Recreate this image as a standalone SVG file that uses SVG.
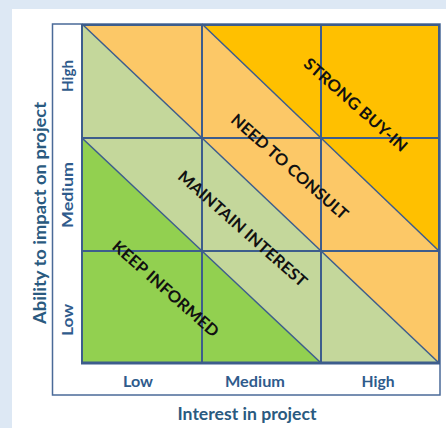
<svg xmlns="http://www.w3.org/2000/svg" width="446" height="428" viewBox="0 0 446 428">
<style>
.lbl{font-family:Lato,"Open Sans","Liberation Sans",sans-serif;font-weight:bold;fill:#2f5b8c;text-anchor:middle}
.axis{font-size:16.5px;fill:#2a5a80}
.tick{font-size:15px}
.band{font-family:Lato,"Open Sans","Liberation Sans",sans-serif;font-weight:bold;font-size:16px;fill:#111;text-anchor:middle}
.grid{stroke:#3d5d8c;stroke-width:2;fill:none}
.diag{stroke:#3d5d8c;stroke-width:1.5;fill:none}
</style>
<rect x="0" y="0" width="446" height="428" fill="#dde8f4"/>
<rect x="12" y="9" width="434" height="419" fill="#ffffff"/>
<rect x="52.5" y="24" width="387.5" height="371" fill="none" stroke="#4a6a98" stroke-width="1.5"/>
<g id="bands">
<polygon id="keep-informed-band" points="82,138 321,363 82,363" fill="#92d050"/>
<polygon id="maintain-interest-band" points="82,24 439,363 321,363 82,138" fill="#c4d79b"/>
<polygon id="need-to-consult-band" points="82,24 202,24 439,251 439,363" fill="#fcc867"/>
<polygon id="strong-buy-in-band" points="202,24 439,24 439,251" fill="#ffc000"/>
</g>
<g id="connectors">
<line class="diag" x1="82" y1="24" x2="439" y2="363"/>
<line class="diag" x1="82" y1="138" x2="321" y2="363"/>
<line class="diag" x1="202" y1="24" x2="439" y2="251"/>
<line class="grid" x1="202" y1="24" x2="202" y2="363"/>
<line class="grid" x1="321" y1="24" x2="321" y2="363"/>
<line class="grid" x1="82" y1="138" x2="439" y2="138"/>
<line class="grid" x1="82" y1="251" x2="439" y2="251"/>
<rect class="grid" x="82" y="25" width="357" height="338"/>
<line stroke="#3d5d8c" stroke-width="3" x1="81" y1="363" x2="440" y2="363"/>
</g>
<g id="strong-buy-in"><text class="band" transform="translate(352,109) rotate(41.5)" textLength="132" lengthAdjust="spacingAndGlyphs">STRONG BUY-IN</text></g>
<g id="need-to-consult"><text class="band" transform="translate(286,171) rotate(41.5)" textLength="150" lengthAdjust="spacingAndGlyphs">NEED TO CONSULT</text></g>
<g id="maintain-interest"><text class="band" transform="translate(239,233) rotate(41.5)" textLength="166" lengthAdjust="spacingAndGlyphs">MAINTAIN INTEREST</text></g>
<g id="keep-informed"><text class="band" transform="translate(162,293) rotate(41.5)" textLength="136" lengthAdjust="spacingAndGlyphs">KEEP INFORMED</text></g>
<g id="y-ticks">
<text class="lbl tick" transform="translate(73,76) rotate(-90)" textLength="32" lengthAdjust="spacingAndGlyphs">High</text>
<text class="lbl tick" transform="translate(73,195) rotate(-90)" textLength="66" lengthAdjust="spacingAndGlyphs">Medium</text>
<text class="lbl tick" transform="translate(73,320) rotate(-90)" textLength="32" lengthAdjust="spacingAndGlyphs">Low</text>
</g>
<g id="x-ticks">
<text class="lbl tick" x="138" y="387" textLength="30" lengthAdjust="spacingAndGlyphs">Low</text>
<text class="lbl tick" x="255" y="387" textLength="60" lengthAdjust="spacingAndGlyphs">Medium</text>
<text class="lbl tick" x="378" y="387" textLength="33" lengthAdjust="spacingAndGlyphs">High</text>
</g>
<g id="y-axis-title"><text class="lbl axis" transform="translate(46,213) rotate(-90)" textLength="222" lengthAdjust="spacingAndGlyphs">Ability to impact on project</text></g>
<g id="x-axis-title"><text class="lbl axis" x="247" y="420" textLength="139" lengthAdjust="spacingAndGlyphs">Interest in project</text></g>
</svg>
